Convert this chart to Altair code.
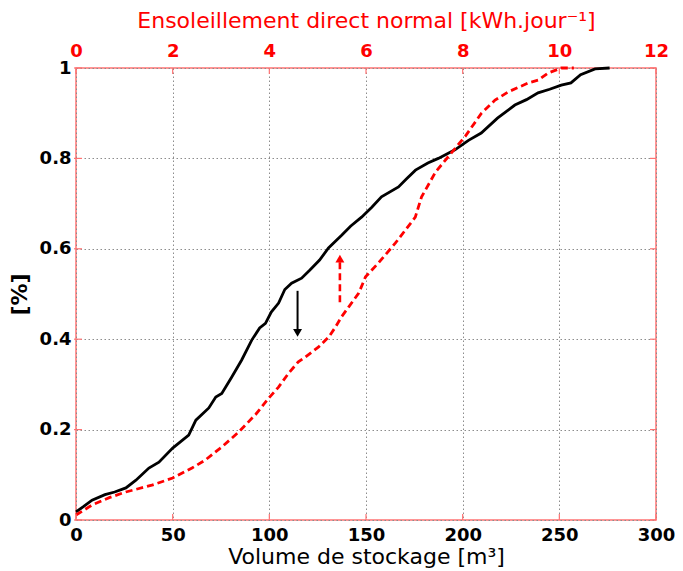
import altair as alt
import pandas as pd

# Black curve: storage volume (bottom axis, m3) vs cumulative frequency
vol = [0, 4, 8.3, 15, 20, 25.8, 31, 37.7, 42.9, 50, 58.3, 62, 68.7, 72.3, 75.4,
       80.5, 85.7, 90.9, 95, 98, 101, 104.8, 108, 111.5, 116.7, 121, 126, 130.6,
       137.4, 142, 147.7, 153, 158, 166.8, 171, 175.6, 182, 187.4, 196, 203,
       209.6, 218, 227, 233, 239, 245, 251, 256, 261, 268.5, 276]
vol_cdf = [0.018, 0.03, 0.044, 0.056, 0.062, 0.071, 0.088, 0.115, 0.128, 0.159,
           0.188, 0.221, 0.248, 0.272, 0.28, 0.316, 0.354, 0.398, 0.425, 0.435,
           0.46, 0.48, 0.51, 0.524, 0.535, 0.553, 0.575, 0.602, 0.63, 0.65, 0.67,
           0.692, 0.715, 0.737, 0.755, 0.774, 0.79, 0.8, 0.819, 0.84, 0.856,
           0.889, 0.918, 0.93, 0.945, 0.953, 0.962, 0.967, 0.985, 0.998, 1.0]

# Red dashed curve: direct normal irradiation (top axis, kWh/day)
dni = [0, 0.33, 0.7, 1.03, 1.57, 2.0, 2.4, 2.68, 3.02, 3.37, 3.72, 3.99, 4.19,
       4.40, 4.6, 4.75, 5.02, 5.23, 5.37, 5.49, 5.64, 5.85, 5.99, 6.26, 6.61,
       7.02, 7.15, 7.44, 7.75, 8.06, 8.39, 8.67, 8.94, 9.36, 9.56, 9.77, 10.04, 10.3]
dni_cdf = [0.011, 0.033, 0.05, 0.062, 0.077, 0.093, 0.115, 0.133, 0.162, 0.195,
           0.234, 0.27, 0.294, 0.325, 0.35, 0.361, 0.383, 0.405, 0.427, 0.449,
           0.471, 0.502, 0.538, 0.569, 0.613, 0.67, 0.715, 0.77, 0.81, 0.85,
           0.90, 0.929, 0.947, 0.967, 0.973, 0.989, 1.0, 1.0]

vol_ticks = [0, 50, 100, 150, 200, 250, 300]
dni_ticks = [0, 2, 4, 6, 8, 10, 12]
y_ticks = [0, 0.2, 0.4, 0.6, 0.8, 1.0]

# Arrows (in volume units on x)
arrow_black = {"x": [114.6], "y0": [0.507], "y1": [0.42], "head": [0.414]}
arrow_red = {"x": [136.5], "y0": [0.482], "y1": [0.57], "head": [0.578]}

W, H = 580, 452
FRAME = "#ff7373"
RED = "#ff0000"
LABEL_FONT = "DejaVu Sans"

df_vol = pd.DataFrame({"vol": vol, "cdf": vol_cdf})
df_dni = pd.DataFrame({"dni": dni, "cdf": dni_cdf})

xvol_scale = alt.Scale(domain=[0, 300], nice=False, zero=False)
xdni_scale = alt.Scale(domain=[0, 12], nice=False, zero=False)
y_scale = alt.Scale(domain=[0, 1], nice=False)
y_axis = alt.Axis(values=y_ticks, format="~g", title="[%]", grid=True,
                  ticks=False, domain=False, labelPadding=5, titlePadding=8,
                  titleFontWeight="bold")


def Y(field):
    return alt.Y(field, scale=y_scale, axis=y_axis)


black = alt.Chart(df_vol).mark_line(color="black", strokeWidth=2.8).encode(
    x=alt.X("vol:Q", scale=xvol_scale,
            axis=alt.Axis(orient="bottom", values=vol_ticks, title="Volume de stockage [m³]",
                          grid=True, ticks=False, domain=False, labelFlush=False,
                          labelPadding=6, titlePadding=2)),
    y=Y("cdf:Q"),
    order="vol:Q",
)

red = alt.Chart(df_dni).mark_line(color=RED, strokeWidth=2.8, strokeDash=[7, 4]).encode(
    x=alt.X("dni:Q", scale=xdni_scale,
            axis=alt.Axis(orient="top", values=dni_ticks,
                          title="Ensoleillement direct normal [kWh.jour⁻¹]",
                          grid=False, ticks=False, domain=False, labelFlush=False,
                          labelColor=RED, titleColor=RED, labelPadding=8, titlePadding=10)),
    y=Y("cdf:Q"),
    order="dni:Q",
)

# inward tick marks on all four sides
df_xt = pd.DataFrame({"t": vol_ticks})
df_yt = pd.DataFrame({"cdf": y_ticks})
tick_bottom = alt.Chart(df_xt).mark_rule(color=FRAME, strokeWidth=1.2).encode(
    x=alt.X("t:Q", scale=xvol_scale, axis=None), y=alt.value(H), y2=alt.value(H - 6))
tick_top = alt.Chart(df_xt).mark_rule(color=FRAME, strokeWidth=1.2).encode(
    x=alt.X("t:Q", scale=xvol_scale, axis=None), y=alt.value(0), y2=alt.value(6))
tick_left = alt.Chart(df_yt).mark_rule(color=FRAME, strokeWidth=1.2).encode(
    y=Y("cdf:Q"), x=alt.value(-2), x2=alt.value(6))
tick_right = alt.Chart(df_yt).mark_rule(color=FRAME, strokeWidth=1.2).encode(
    y=Y("cdf:Q"), x=alt.value(W), x2=alt.value(W - 6))

df_ab = pd.DataFrame(arrow_black)
df_ar = pd.DataFrame(arrow_red)
ab_line = alt.Chart(df_ab).mark_rule(color="black", strokeWidth=2).encode(
    x=alt.X("x:Q", scale=xvol_scale, axis=None),
    y=Y("y0:Q"), y2="y1:Q")
ab_head = alt.Chart(df_ab).mark_point(shape="triangle-down", filled=True, color="black",
                                      size=80, opacity=1).encode(
    x=alt.X("x:Q", scale=xvol_scale, axis=None),
    y=Y("head:Q"))
ar_line = alt.Chart(df_ar).mark_rule(color=RED, strokeWidth=2.6, strokeDash=[7, 4]).encode(
    x=alt.X("x:Q", scale=xvol_scale, axis=None),
    y=Y("y0:Q"), y2="y1:Q")
ar_head = alt.Chart(df_ar).mark_point(shape="triangle-up", filled=True, color=RED,
                                      size=80, opacity=1).encode(
    x=alt.X("x:Q", scale=xvol_scale, axis=None),
    y=Y("head:Q"))

chart = alt.layer(
    black, red, tick_bottom, tick_top, tick_left, tick_right,
    ab_line, ab_head, ar_line, ar_head
).resolve_scale(x="independent").properties(
    width=W, height=H,
    autosize=alt.AutoSizeParams(type="none"),
    padding={"left": 68, "top": 60, "right": 19, "bottom": 50},
).configure_view(
    stroke=FRAME, strokeWidth=1.5
).configure_axis(
    labelFont=LABEL_FONT, labelFontSize=18, labelFontWeight="bold", labelColor="black",
    titleFont=LABEL_FONT, titleFontSize=22, titleFontWeight="normal", titleColor="black",
    gridColor="#8c8c8c", gridDash=[1.5, 2.5], gridWidth=1, gridOpacity=1,
)

chart.save("out.html", embed_options={"renderer": "svg", "actions": False})
